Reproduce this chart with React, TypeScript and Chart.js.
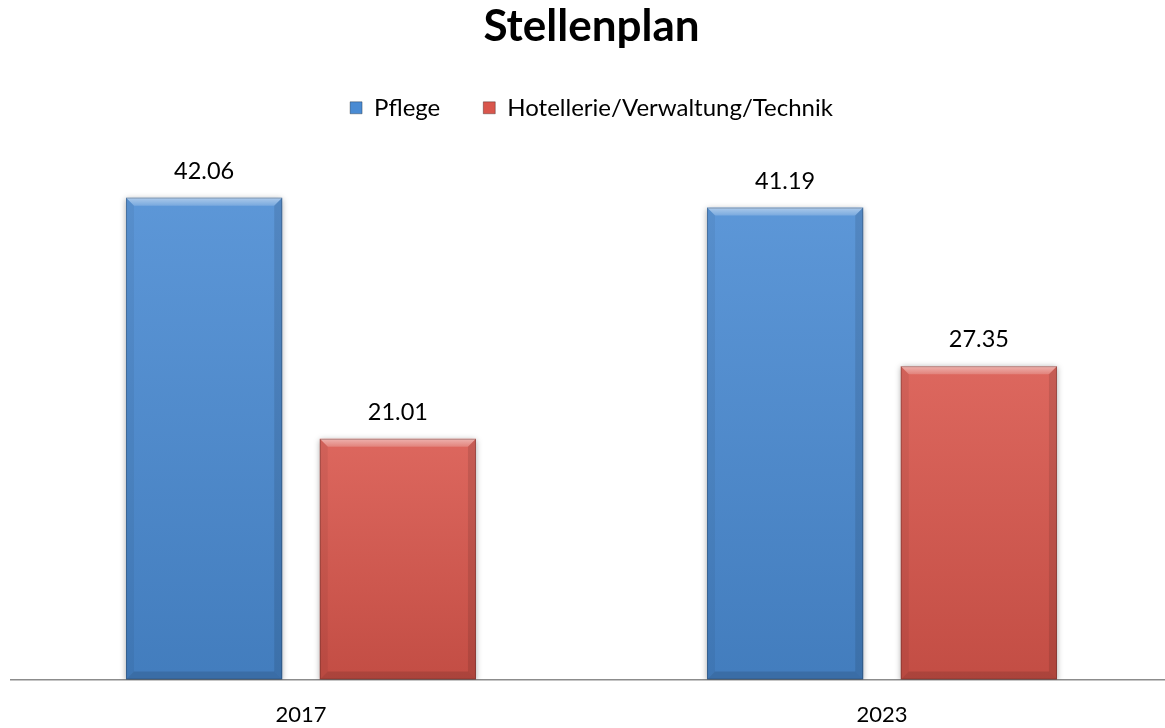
import React, { useEffect, useRef } from "react";
import { Chart, registerables } from "chart.js";

Chart.register(...registerables);

const titleText = "Stellenplan";
const categories = ["2017", "2023"];
const seriesNames = ["Pflege", "Hotellerie/Verwaltung/Technik"];
const pflegeValues = [42.06, 41.19];
const hotellerieValues = [21.01, 27.35];

const BLUE = "#4a8bd3";
const RED = "#d9564c";
const FONT = "Lato";

const shadowPlugin = {
  id: "barShadow",
  beforeDatasetsDraw(chart: any) {
    const ctx = chart.ctx;
    ctx.save();
    ctx.shadowColor = "rgba(0,0,0,0.35)";
    ctx.shadowBlur = 6;
    ctx.shadowOffsetX = 0;
    ctx.shadowOffsetY = 1;
  },
  afterDatasetsDraw(chart: any) {
    chart.ctx.restore();
  },
};

function poly(ctx: CanvasRenderingContext2D, pts: number[][], fill: string | CanvasGradient) {
  ctx.beginPath();
  ctx.moveTo(pts[0][0], pts[0][1]);
  for (let i = 1; i < pts.length; i++) ctx.lineTo(pts[i][0], pts[i][1]);
  ctx.closePath();
  ctx.fillStyle = fill;
  ctx.fill();
}

const bevelPlugin = {
  id: "barBevel",
  afterDatasetsDraw(chart: any) {
    const ctx: CanvasRenderingContext2D = chart.ctx;
    chart.data.datasets.forEach((ds: any, di: number) => {
      const meta = chart.getDatasetMeta(di);
      meta.data.forEach((el: any, i: number) => {
        const { x, y, base, width } = el.getProps(["x", "y", "base", "width"], true);
        const L = x - width / 2;
        const R = x + width / 2;
        const T = Math.min(y, base);
        const B = Math.max(y, base);
        const b = 8;
        ctx.save();
        const g = ctx.createLinearGradient(0, T, 0, B);
        g.addColorStop(0, "rgba(255,255,255,0.10)");
        g.addColorStop(1, "rgba(0,0,0,0.10)");
        ctx.fillStyle = g;
        ctx.fillRect(L, T, R - L, B - T);
        const tg = ctx.createLinearGradient(0, T, 0, T + b);
        tg.addColorStop(0, "rgba(255,255,255,0.5)");
        tg.addColorStop(1, "rgba(255,255,255,0.18)");
        poly(ctx, [[L, T], [R, T], [R - b, T + b], [L + b, T + b]], tg);
        poly(ctx, [[L, T], [L + b, T + b], [L + b, B - b], [L, B]], "rgba(0,0,0,0.05)");
        poly(ctx, [[R, T], [R - b, T + b], [R - b, B - b], [R, B]], "rgba(0,0,0,0.10)");
        poly(ctx, [[L, B], [L + b, B - b], [R - b, B - b], [R, B]], "rgba(0,0,0,0.12)");
        ctx.strokeStyle = "rgba(0,0,0,0.22)";
        ctx.lineWidth = 1;
        ctx.strokeRect(L + 0.5, T + 0.5, R - L - 1, B - T - 1);
        ctx.restore();

        const v = ds.data[i];
        ctx.save();
        ctx.font = `23.5px ${FONT}`;
        ctx.fillStyle = "#000";
        ctx.textAlign = "center";
        ctx.textBaseline = "alphabetic";
        ctx.fillText(Number(v).toFixed(2), x, T - 19);
        ctx.restore();
      });
    });
  },
};

export default function App() {
  const ref = useRef<HTMLCanvasElement | null>(null);
  useEffect(() => {
    if (!ref.current) return;
    const colors = [BLUE, RED];
    const chart = new Chart(ref.current, {
      type: "bar",
      data: {
        labels: categories,
        datasets: [
          { label: seriesNames[0], data: pflegeValues, backgroundColor: BLUE, borderWidth: 0 },
          { label: seriesNames[1], data: hotellerieValues, backgroundColor: RED, borderWidth: 0 },
        ],
      },
      options: {
        responsive: false,
        animation: false,
        devicePixelRatio: 1,
        datasets: { bar: { categoryPercentage: 0.667, barPercentage: 0.806 } },
        layout: { padding: { left: 10.5, right: 7.5, top: 0, bottom: -22 } },
        plugins: {
          title: {
            display: true,
            text: titleText,
            color: "#000",
            font: { family: FONT, size: 44, weight: "bold" },
            padding: { top: 0, bottom: 0 },
          },
          legend: {
            position: "top",
            labels: {
              boxWidth: 12,
              boxHeight: 12,
              padding: 43,
              color: "#000",
              font: { family: FONT, size: 24 },
              generateLabels: (c: any) =>
                c.data.datasets.map((d: any, i: number) => ({
                  text: d.label,
                  fillStyle: colors[i],
                  strokeStyle: "rgba(0,0,0,0.3)",
                  lineWidth: 1,
                  hidden: false,
                  datasetIndex: i,
                  fontColor: "#000",
                })),
            },
          },
          tooltip: { enabled: false },
        },
        scales: {
          x: {
            grid: { display: false, drawTicks: false },
            border: { display: true, color: "#8c8c8c", width: 1.5 },
            ticks: { color: "#000", font: { family: FONT, size: 22 }, padding: 22 },
          },
          y: { display: false, min: 0, max: 47.98 },
        },
      },
      plugins: [shadowPlugin, bevelPlugin],
    } as any);
    return () => chart.destroy();
  }, []);

  return (
    <div style={{ position: "fixed", left: 0, top: 0, width: 1165, height: 728, overflow: "hidden", background: "#fff" }}>
      <canvas ref={ref} width={1180} height={728} style={{ display: "block", width: 1180, height: 728 }} />
    </div>
  );
}
